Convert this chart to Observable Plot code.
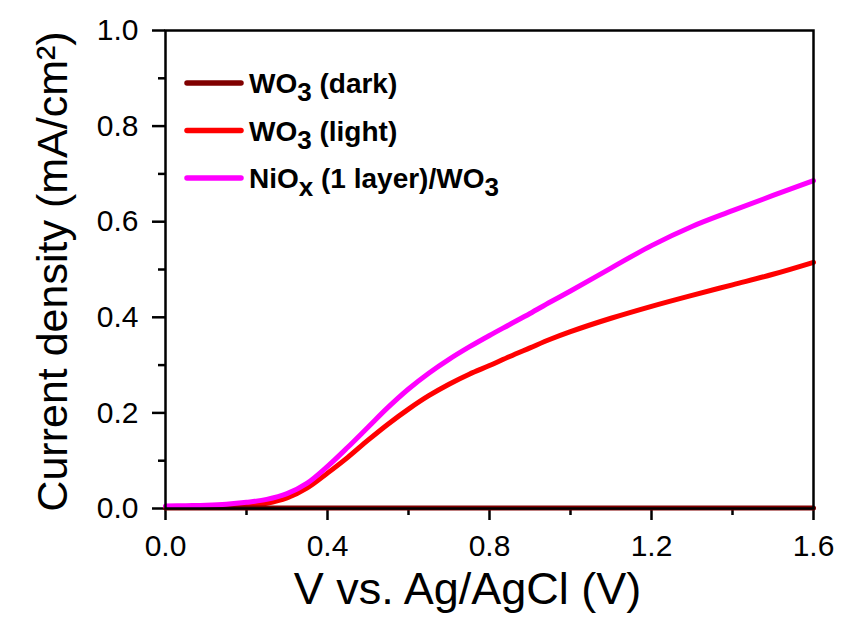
<!DOCTYPE html>
<html><head><meta charset="utf-8">
<script src="https://cdn.jsdelivr.net/npm/d3@7"></script>
<script src="https://cdn.jsdelivr.net/npm/@observablehq/plot@0.6"></script>
<style>body{margin:0;background:#fff;}</style>
</head><body><div id="chart"></div>
<script>
// ---- data ----
const voltage = [0, 0.05, 0.1, 0.15, 0.2, 0.25, 0.3, 0.35, 0.4, 0.45, 0.5, 0.55, 0.6, 0.65, 0.7, 0.75, 0.8, 0.85, 0.9, 0.95, 1.0, 1.1, 1.2, 1.3, 1.4, 1.5, 1.6];
const darkJ  = [0.001,0.001,0.001,0.001,0.001,0.001,0.001,0.001,0.001,0.001,0.001,0.001,0.001,0.001,0.001,0.001,0.001,0.001,0.001,0.001,0.001,0.001,0.001,0.001,0.001,0.001,0.001];
const lightJ = [0.003, 0.003, 0.004, 0.005, 0.006, 0.011, 0.022, 0.043, 0.074, 0.107, 0.143, 0.177, 0.208, 0.236, 0.26, 0.281, 0.299, 0.318, 0.336, 0.354, 0.37, 0.398, 0.423, 0.446, 0.468, 0.49, 0.515];
const niJ    = [0.005, 0.006, 0.007, 0.009, 0.013, 0.019, 0.031, 0.053, 0.088, 0.128, 0.17, 0.212, 0.25, 0.283, 0.312, 0.338, 0.362, 0.385, 0.408, 0.432, 0.455, 0.503, 0.55, 0.59, 0.623, 0.655, 0.686];
const seriesNames  = ["WO3 (dark)", "WO3 (light)", "NiOx (1 layer)/WO3"];
const seriesValues = [darkJ, lightJ, niJ];
const seriesColors = ["#800000", "#ff0000", "#ff00ff"];
const drawOrder = [1, 0, 2];
// legend label pieces: [text, isSubscript]
const legendParts = [
  [["WO", 0], ["3", 1], [" (dark)", 0]],
  [["WO", 0], ["3", 1], [" (light)", 0]],
  [["NiO", 0], ["x", 1], [" (1 layer)/WO", 0], ["3", 1]]
];
const xMajor = [0, 0.4, 0.8, 1.2, 1.6];
const xMinor = [0.2, 0.6, 1.0, 1.4];
const yMajor = [0, 0.2, 0.4, 0.6, 0.8, 1.0];
const yMinor = [0.1, 0.3, 0.5, 0.7, 0.9];
const xLabel = "V vs. Ag/AgCl (V)";
const yLabel = "Current density (mA/cm²)";

const rows = [];
drawOrder.forEach(i => voltage.forEach((v, j) => rows.push({series: seriesNames[i], V: v, J: seriesValues[i][j]})));

const chart = Plot.plot({
  width: 841, height: 632,
  marginLeft: 165, marginRight: 28, marginTop: 30, marginBottom: 124,
  style: {fontFamily: '"Liberation Sans", Arial, sans-serif', fontSize: "30px", color: "#000", background: "#fff", overflow: "visible"},
  x: {domain: [0, 1.6]},
  y: {domain: [0, 1]},
  color: {domain: seriesNames, range: seriesColors},
  marks: [
    Plot.axisX({ticks: xMajor, tickSize: 12, tickPadding: 14, strokeWidth: 2.5, tickFormat: d => d.toFixed(1), label: null, fontSize: 30}),
    Plot.axisX({ticks: xMinor, tickSize: 7, strokeWidth: 2.5, tickFormat: () => "", label: null}),
    Plot.axisY({ticks: yMajor, tickSize: 13, tickPadding: 14, strokeWidth: 2.5, tickFormat: d => d.toFixed(1), label: null, fontSize: 30}),
    Plot.axisY({ticks: yMinor, tickSize: 7, strokeWidth: 2.5, tickFormat: () => "", label: null}),
    Plot.line(rows, {x: "V", y: "J", z: "series", stroke: "series", strokeWidth: 5, curve: "catmull-rom"}),
    Plot.frame({stroke: "#000", strokeWidth: 2.5}),
    Plot.text([xLabel], {frameAnchor: "bottom", dx: -22, dy: 95, fontSize: 45, text: d => d, fill: "#000"}),
    Plot.text([yLabel], {frameAnchor: "left", rotate: -90, textAnchor: "middle", lineAnchor: "middle", fontSize: 43, text: d => d, fill: "#000", className: "ylab"})
  ]
});
document.getElementById("chart").append(chart);

// position rotated y label
const svg = d3.select(chart);
svg.selectAll(".ylab text").attr("transform", "translate(53,271) rotate(-90)").attr("text-anchor", "middle");

// legend
const leg = svg.append("g").attr("font-family", '"Liberation Sans", Arial, sans-serif')
  .attr("font-weight", "bold").attr("text-anchor", "start");
legendParts.forEach((parts, i) => {
  const y = 83 + i * 47.5;
  leg.append("line").attr("x1", 187).attr("x2", 241).attr("y1", y).attr("y2", y)
    .attr("stroke", seriesColors[i]).attr("stroke-width", 5.5).attr("stroke-linecap", "round");
  const t = leg.append("text").attr("x", 249).attr("y", y + 10).attr("font-size", 28)
    .attr("fill", "#000").attr("text-anchor", "start");
  parts.forEach(([s, sub], k) => {
    const ts = t.append("tspan").text(s);
    if (sub) ts.attr("font-size", 26).attr("dy", 8);
    else if (k > 0) ts.attr("dy", -8);
  });
});
</script>
</body></html>
